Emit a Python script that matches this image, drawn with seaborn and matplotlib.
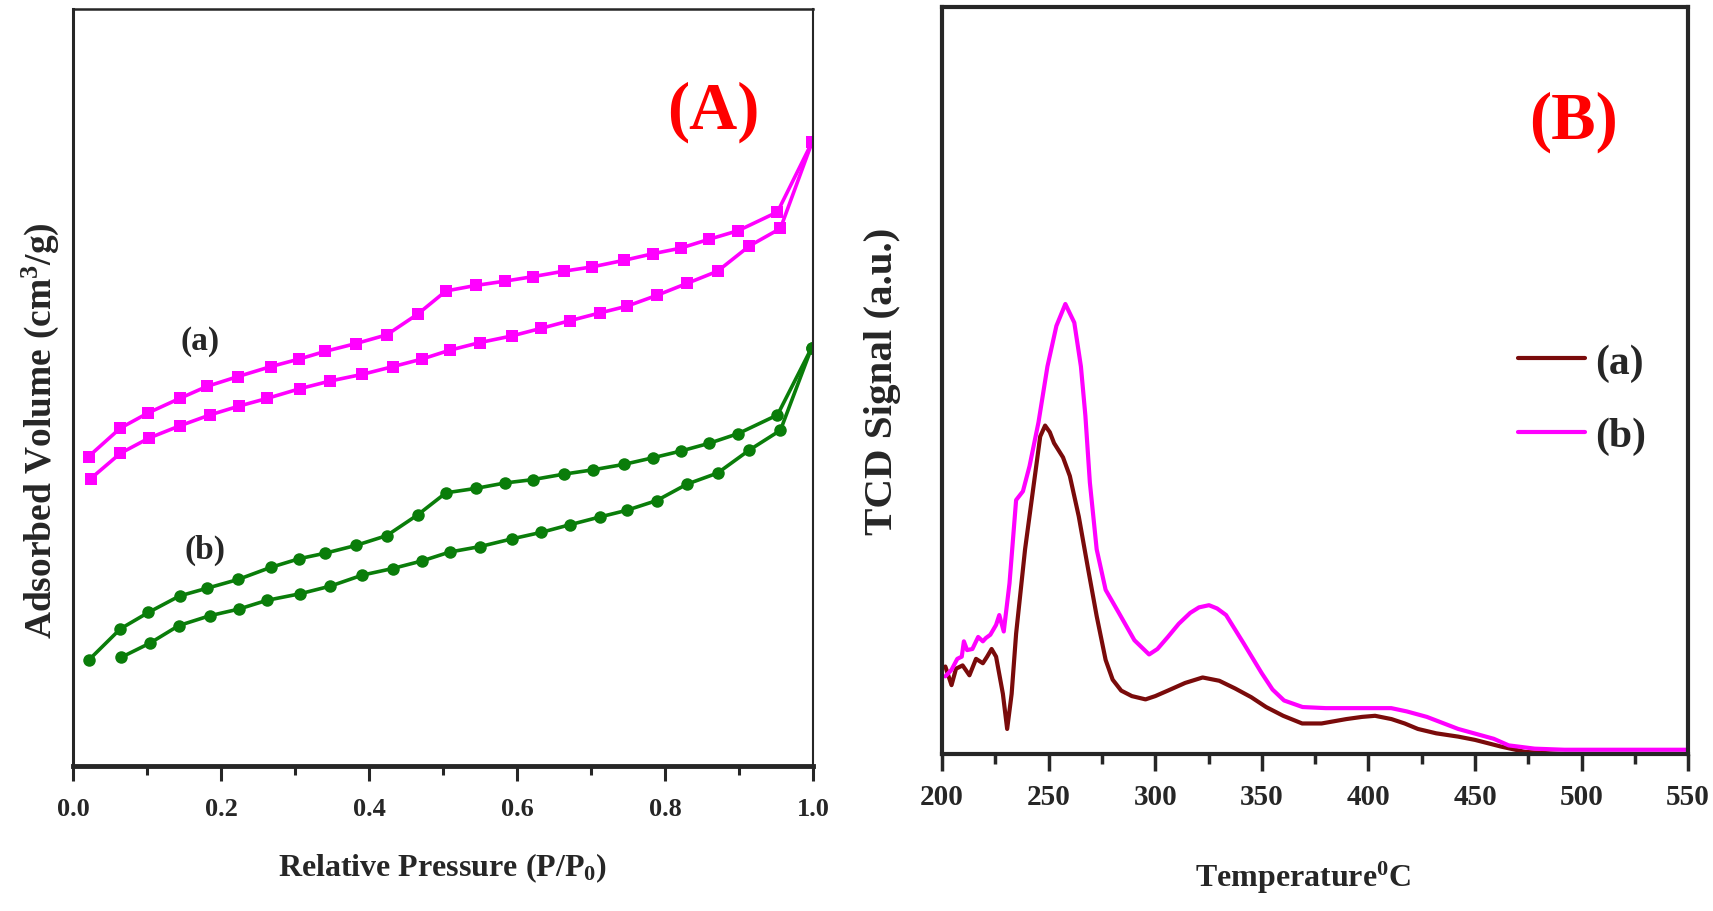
import numpy as np
import pandas as pd
import matplotlib.pyplot as plt
from matplotlib.ticker import MultipleLocator
import seaborn as sns

# (A) N2 isotherms - relative pressure and adsorbed volume (arbitrary units, no y ticks)
pink_ads_p = [0.024, 0.064, 0.103, 0.144, 0.185, 0.224, 0.262, 0.307, 0.348, 0.391, 0.432, 0.472,
              0.509, 0.550, 0.593, 0.633, 0.672, 0.712, 0.748, 0.789, 0.830, 0.871, 0.914, 0.956, 0.999]
pink_ads_v = [262, 285, 299, 310, 320, 328, 335, 344, 351, 357, 364, 371,
              379, 386, 392, 399, 406, 413, 419, 429, 440, 451, 474, 490, 569]
pink_des_p = [0.999, 0.952, 0.899, 0.859, 0.821, 0.784, 0.745, 0.702, 0.663, 0.621, 0.584, 0.544,
              0.504, 0.466, 0.424, 0.382, 0.341, 0.306, 0.267, 0.223, 0.181, 0.144, 0.102, 0.064, 0.021]
pink_des_v = [569, 505, 488, 480, 472, 467, 461, 455, 451, 446, 442, 438,
              433, 412, 393, 385, 378, 371, 364, 355, 346, 335, 322, 308, 282]

green_ads_p = [0.065, 0.104, 0.143, 0.185, 0.224, 0.262, 0.307, 0.348, 0.391, 0.432, 0.472, 0.509,
               0.550, 0.593, 0.633, 0.672, 0.712, 0.748, 0.789, 0.830, 0.871, 0.914, 0.956, 0.998]
green_ads_v = [99, 112, 128, 137, 143, 151, 157, 164, 174, 180, 187, 195,
               200, 207, 213, 220, 227, 233, 242, 257, 267, 288, 306, 381]
green_des_p = [0.998, 0.952, 0.899, 0.859, 0.821, 0.784, 0.745, 0.703, 0.663, 0.621, 0.584, 0.544,
               0.504, 0.466, 0.424, 0.382, 0.341, 0.306, 0.267, 0.223, 0.181, 0.144, 0.102, 0.064, 0.022]
green_des_v = [381, 320, 303, 294, 287, 281, 275, 270, 266, 261, 258, 253,
               249, 229, 210, 201, 194, 189, 181, 170, 162, 155, 140, 125, 97]

# (B) TPD profiles
temp_a = [201.5, 204.4, 206.5, 209.6, 212.8, 215.9, 219.1, 221.1, 223.2, 225.3, 228.5, 230.5, 232.6,
          234.7, 238.9, 243.1, 246.0, 248.3, 250.5, 252.5, 256.7, 259.9, 264.1, 268.3, 272.5, 276.7,
          280.0, 284.0, 289.0, 295.4, 300.0, 305.9, 314.0, 322.2, 330.0, 337.4, 345.0, 352.0, 360.0,
          368.9, 378.0, 389.6, 397.0, 403.1, 410.8, 417.0, 423.2, 431.8, 442.1, 450.0, 462.0, 473.6,
          491.9, 549.3]
sig_a = [80, 63, 78, 81, 72, 87, 83, 89, 96, 89, 55, 23, 55,
         110, 187, 248, 290, 300, 294, 284, 271, 254, 217, 171, 126, 86,
         68, 58, 53, 50, 53, 58, 65, 70, 67, 60, 52, 43, 35,
         28, 28, 32, 34, 35, 32, 28, 23, 19, 16, 13, 7, 2,
         0, 0]
temp_b = [201.5, 204.4, 207.1, 209.2, 210.2, 211.7, 214.2, 216.9, 219.1, 220.5, 222.6, 225.3, 226.8,
          228.9, 231.6, 234.7, 237.9, 241.0, 245.2, 249.4, 253.6, 257.8, 262.0, 265.1, 267.2, 269.3,
          272.5, 276.7, 282.9, 290.2, 297.1, 301.0, 305.9, 311.0, 316.4, 320.5, 325.2, 329.0, 333.2,
          341.5, 349.9, 355.0, 360.4, 369.1, 380.0, 389.6, 400.0, 410.7, 418.0, 427.4, 442.1, 458.8,
          465.8, 478.0, 491.9, 549.3]
sig_b = [71, 77, 87, 89, 103, 95, 96, 107, 103, 106, 109, 118, 127,
         112, 156, 232, 240, 263, 303, 354, 391, 411, 394, 354, 309, 248,
         187, 150, 129, 104, 91, 96, 107, 119, 129, 134, 136, 133, 127,
         101, 74, 59, 49, 43, 42, 42, 42, 42, 39, 34, 23, 14,
         8, 5, 4, 4]

PINK = '#FF00FF'
GREEN = '#0A7D0A'
BROWN = '#7A0B0B'

sns.set_style('ticks')
plt.rcParams['font.family'] = ['Liberation Serif', 'DejaVu Serif']
plt.rcParams['font.weight'] = 'bold'
plt.rcParams['mathtext.fontset'] = 'custom'
plt.rcParams['mathtext.rm'] = 'Liberation Serif:bold'
plt.rcParams['mathtext.bf'] = 'Liberation Serif:bold'
plt.rcParams['mathtext.it'] = 'Liberation Serif:bold:italic'

fig = plt.figure(figsize=(17.13, 9.12), dpi=100)
ax1 = fig.add_axes([0.0426, 0.159, 0.432, 0.830])
ax2 = fig.add_axes([0.550, 0.172, 0.4355, 0.819])

# ---- panel A
for px, vy, col, mk in [(pink_ads_p, pink_ads_v, PINK, 's'), (pink_des_p, pink_des_v, PINK, 's'),
                        (green_ads_p, green_ads_v, GREEN, 'o'), (green_des_p, green_des_v, GREEN, 'o')]:
    sns.lineplot(x=px, y=vy, ax=ax1, color=col, marker=mk, markersize=9, markeredgewidth=0,
                 linewidth=2.6, estimator=None, sort=False)

ax1.set_xlim(0, 1.0)
ax1.set_ylim(0, 690)
ax1.set_yticks([])
ax1.set_xticks(np.arange(0, 1.01, 0.2))
ax1.xaxis.set_minor_locator(MultipleLocator(0.1))
ax1.tick_params(axis='x', which='major', length=11, width=2.2, pad=11, labelsize=19, direction='out')
ax1.tick_params(axis='x', which='minor', length=6.5, width=2.2, direction='out')
ax1.spines['left'].set_linewidth(2.2)
ax1.spines['bottom'].set_linewidth(3.5)
ax1.spines['top'].set_linewidth(1.8)
ax1.spines['right'].set_linewidth(1.5)
ax1.set_xlabel('Relative Pressure (P/P$_0$)', fontsize=23, fontweight='bold')
ax1.xaxis.set_label_coords(0.5, -0.112)
ax1.set_ylabel('Adsorbed Volume (cm$^3$/g)', fontsize=27, fontweight='bold')
ax1.yaxis.set_label_coords(-0.016, 0.445)
ax1.text(0.865, 0.865, '(A)', transform=ax1.transAxes, color='red', fontsize=48,
         fontweight='bold', ha='center', va='center')
ax1.text(0.172, 388, '(a)', fontsize=24, fontweight='bold', ha='center', va='center')
ax1.text(0.178, 197, '(b)', fontsize=24, fontweight='bold', ha='center', va='center')

# ---- panel B
tpd = pd.DataFrame({
    'Temperature': temp_a + temp_b,
    'Signal': sig_a + sig_b,
    'sample': ['(a)'] * len(temp_a) + ['(b)'] * len(temp_b),
})
sns.lineplot(data=tpd, x='Temperature', y='Signal', hue='sample', ax=ax2,
             palette={'(a)': BROWN, '(b)': PINK}, linewidth=3, estimator=None, sort=False)

ax2.set_xlim(200, 550)
ax2.set_ylim(0, 682)
ax2.set_yticks([])
ax2.set_xticks(np.arange(200, 551, 50))
ax2.xaxis.set_minor_locator(MultipleLocator(25))
ax2.tick_params(axis='x', which='major', length=12, width=2.5, pad=9, labelsize=21, direction='out')
ax2.tick_params(axis='x', which='minor', length=7, width=2.5, direction='out')
for s in ax2.spines.values():
    s.set_linewidth(3)
ax2.set_xlabel('Temperature$^0$C', fontsize=23, fontweight='bold')
ax2.xaxis.set_label_coords(0.484, -0.14)
ax2.set_ylabel('TCD Signal (a.u.)', fontsize=29.5, fontweight='bold')
ax2.yaxis.set_label_coords(-0.055, 0.5)
ax2.text(0.846, 0.847, '(B)', transform=ax2.transAxes, color='red', fontsize=48,
         fontweight='bold', ha='center', va='center')
ax2.legend(loc='upper left', bbox_to_anchor=(0.772, 0.55), frameon=False, fontsize=30,
           handlelength=1.6, handletextpad=0.25, labelspacing=0.84, borderpad=0, borderaxespad=0)

fig.savefig('out.png', dpi=100)
